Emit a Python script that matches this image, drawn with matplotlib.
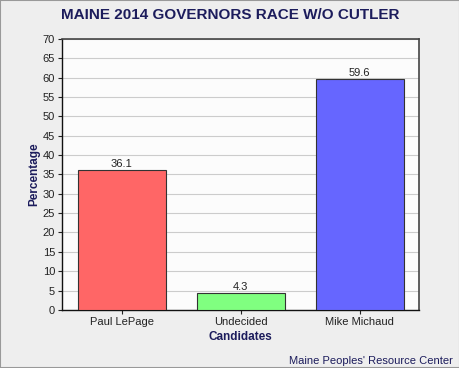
import matplotlib
matplotlib.use("Agg")
import matplotlib.pyplot as plt

candidates = ["Paul LePage", "Undecided", "Mike Michaud"]
percentages = [36.1, 4.3, 59.6]
bar_colors = ["#ff6666", "#80ff80", "#6666ff"]
y_ticks = list(range(0, 75, 5))

plt.rcParams["font.family"] = ["Liberation Sans", "DejaVu Sans"]
navy = "#1c1c5c"

fig = plt.figure(figsize=(4.6, 3.68), dpi=100, facecolor="#eeeeee")
fig.patches.append(plt.Rectangle((0, 0), 1, 1, transform=fig.transFigure,
                                 fill=False, edgecolor="#999999", linewidth=1.5))
ax = fig.add_axes([0.135, 0.158, 0.776, 0.736])
ax.set_facecolor("#fcfcfc")

x = range(len(candidates))
bars = ax.bar(x, percentages, width=0.74, color=bar_colors,
              edgecolor="#333333", linewidth=0.8, zorder=3)
for bar, value in zip(bars, percentages):
    ax.text(bar.get_x() + bar.get_width() / 2, value + 0.3, f"{value}",
            ha="center", va="bottom", fontsize=8, color="#222222", zorder=4)

ax.set_xlim(-0.5, len(candidates) - 0.5)
ax.set_ylim(0, 70)
ax.set_yticks(y_ticks)
ax.set_xticks(list(x))
ax.set_xticklabels(candidates)
ax.tick_params(axis="both", labelsize=8, colors="#222222", length=3, pad=2)
ax.grid(axis="y", color="#cccccc", linewidth=0.8, zorder=0)

for side in ("top", "right"):
    ax.spines[side].set_color("#444444")
    ax.spines[side].set_linewidth(1.2)
for side in ("left", "bottom"):
    ax.spines[side].set_color("#111111")
    ax.spines[side].set_linewidth(1.0)

ax.set_xlabel("Candidates", fontsize=8.5, fontweight="bold", color=navy, labelpad=3)
ax.set_ylabel("Percentage", fontsize=8.5, fontweight="bold", color=navy, labelpad=2)
fig.text(0.5, 0.958, "MAINE 2014 GOVERNORS RACE W/O CUTLER", ha="center", va="center",
         fontsize=11, fontweight="bold", color=navy)
fig.text(0.985, 0.018, "Maine Peoples' Resource Center", ha="right", va="center",
         fontsize=8, color=navy)

fig.savefig("out.png", dpi=100, facecolor=fig.get_facecolor())
